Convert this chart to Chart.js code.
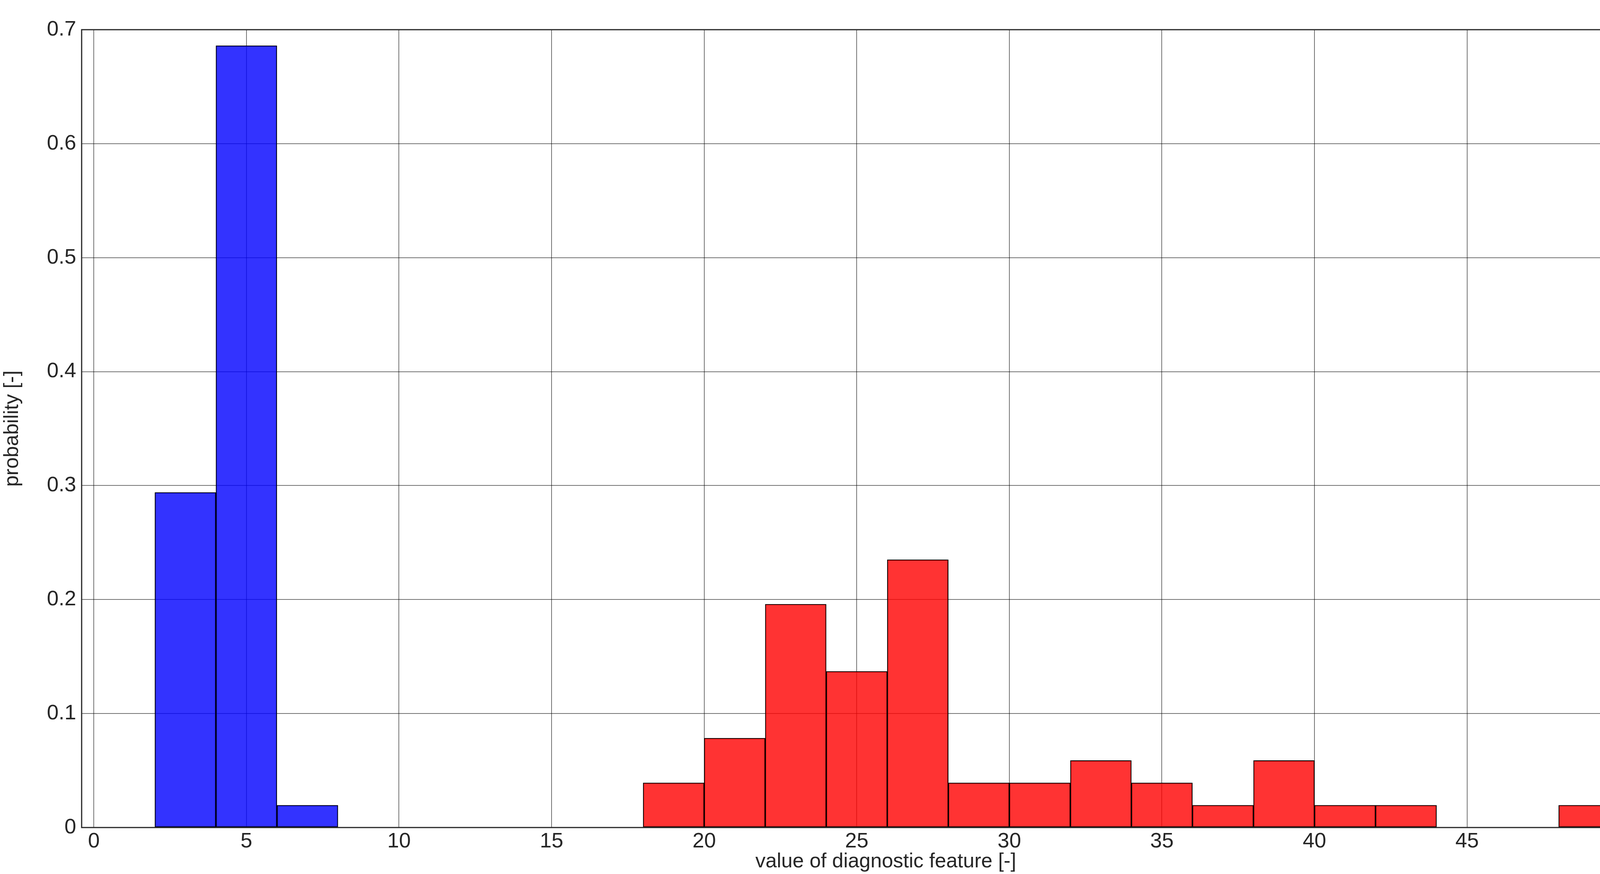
<!DOCTYPE html>
<html>
<head>
<meta charset="utf-8">
<script src="https://cdn.jsdelivr.net/npm/chart.js@4"></script>
<style>
  html, body { margin: 0; padding: 0; background: #fff; overflow: hidden; }
  canvas { display: block; }
</style>
</head>
<body>
<canvas id="histChart" width="4383" height="2238" style="width:4383px;height:2238px"></canvas>
<script>
// ===== Data (bin centres, bin width 2) =====
const p2Centers = [3, 5, 7];
const p2Values = [0.294, 0.686, 0.0196];
const in2Centers = [19, 21, 23, 25, 27, 29, 31, 33, 35, 37, 39, 41, 43, 45, 47, 49];
const in2Values = [0.0392, 0.0784, 0.196, 0.137, 0.235, 0.0392, 0.0392, 0.0588, 0.0392, 0.0196, 0.0588, 0.0196, 0.0196, 0, 0, 0.0196];
const xTicks = [0, 5, 10, 15, 20, 25, 30, 35, 40, 45, 50];
const seriesNames = ['in2', 'p2'];

const FONT = 'Liberation Sans, Arial, sans-serif';
const RED = 'rgba(255,0,0,0.8)';
const BLUE = 'rgba(0,0,255,0.8)';

// frame + legend drawn on top of the plot area
const framePlugin = {
  id: 'frame',
  afterDatasetsDraw(chart) {
    const { ctx, chartArea: a } = chart;
    ctx.save();
    ctx.strokeStyle = '#262626';
    ctx.lineWidth = 3;
    ctx.strokeRect(a.left, a.top, a.right - a.left, a.bottom - a.top);

    // legend box
    const bx = a.right - 217, by = a.top + 24, bw = 193, bh = 145;
    ctx.fillStyle = '#fff';
    ctx.fillRect(bx, by, bw, bh);
    ctx.lineWidth = 2;
    ctx.strokeStyle = '#333';
    ctx.strokeRect(bx, by, bw, bh);
    const colors = [RED, BLUE];
    ctx.font = '58px ' + FONT;
    ctx.textBaseline = 'middle';
    seriesNames.forEach((name, i) => {
      const sy = by + 11 + i * 72;
      ctx.fillStyle = colors[i];
      ctx.fillRect(bx + 9, sy, 90, 51);
      ctx.strokeStyle = '#000';
      ctx.strokeRect(bx + 9, sy, 90, 51);
      ctx.fillStyle = '#000';
      ctx.fillText(name, bx + 103, sy + 28);
    });
    ctx.restore();
  }
};

function toPoints(xs, ys) {
  return xs.map((x, i) => ({ x, y: ys[i] }));
}

const ctx = document.getElementById('histChart').getContext('2d');
new Chart(ctx, {
  type: 'bar',
  data: {
    datasets: [
      {
        label: seriesNames[0],
        data: toPoints(in2Centers, in2Values),
        backgroundColor: RED,
        borderColor: '#000',
        borderWidth: 2,
        borderSkipped: false,
      },
      {
        label: seriesNames[1],
        data: toPoints(p2Centers, p2Values),
        backgroundColor: BLUE,
        borderColor: '#000',
        borderWidth: 2,
        borderSkipped: false,
      },
    ],
  },
  options: {
    responsive: false,
    devicePixelRatio: 1,
    animation: false,
    grouped: false,
    barPercentage: 1,
    categoryPercentage: 1,
    layout: { padding: { left: 0, top: 76, right: 57, bottom: 0 } },
    plugins: {
      legend: { display: false },
      tooltip: { enabled: false },
    },
    scales: {
      x: {
        type: 'linear',
        offset: false,
        min: -0.4,
        max: 52.3,
        afterBuildTicks: (axis) => { axis.ticks = xTicks.map((v) => ({ value: v })); },
        afterFit: (axis) => { axis.height = 119; },
        grid: { color: 'rgba(0,0,0,0.55)', lineWidth: 2, drawTicks: false, offset: false },
        border: { display: false },
        ticks: { color: '#262626', font: { family: FONT, size: 54 }, padding: 4 },
        title: {
          display: true,
          text: 'value of diagnostic feature [-]',
          color: '#262626',
          font: { family: FONT, size: 52 },
          padding: { top: 0, bottom: 0 },
        },
      },
      y: {
        min: 0,
        max: 0.7,
        afterFit: (axis) => { axis.width = 209; },
        grid: { color: 'rgba(0,0,0,0.55)', lineWidth: 2, drawTicks: false },
        border: { display: false },
        ticks: {
          stepSize: 0.1,
          color: '#262626',
          font: { family: FONT, size: 54 },
          padding: 14,
          callback: (v) => (Math.round(v * 10) / 10).toString(),
        },
        title: {
          display: true,
          text: 'probability [-]',
          color: '#262626',
          font: { family: FONT, size: 52 },
          padding: { top: 0, bottom: 6 },
        },
      },
    },
  },
  plugins: [framePlugin],
});
</script>
</body>
</html>
